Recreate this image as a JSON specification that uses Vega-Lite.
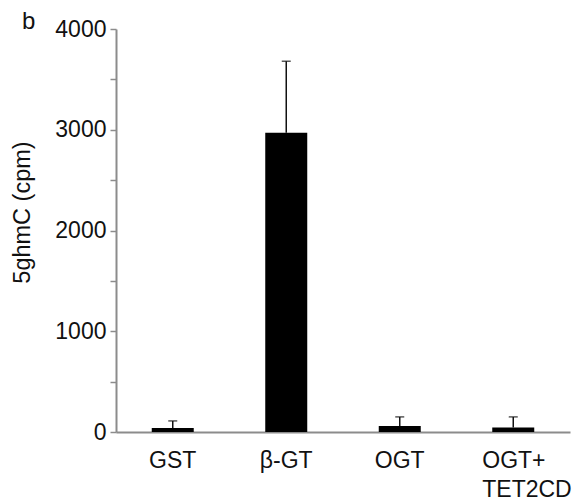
{
  "$schema": "https://vega.github.io/schema/vega-lite/v6.json",
  "autosize": "none",
  "width": 454,
  "height": 403,
  "padding": {"left": 116, "top": 29, "right": 17, "bottom": 70},
  "background": "white",
  "config": {
    "view": {"stroke": null},
    "font": "Liberation Sans"
  },
  "title": {
    "text": "b",
    "anchor": "start",
    "frame": "group",
    "orient": "top",
    "fontSize": 24,
    "fontWeight": "normal",
    "font": "Liberation Sans",
    "color": "#111",
    "offset": 0,
    "dx": -94,
    "dy": 16
  },
  "data": {
    "values": [
      {"group": "GST", "value": 40, "upper": 110},
      {"group": "β-GT", "value": 2970, "upper": 3680},
      {"group": "OGT", "value": 60, "upper": 150},
      {"group": "OGT+TET2CD", "value": 45, "upper": 150}
    ]
  },
  "encoding": {
    "x": {
      "field": "group",
      "type": "nominal",
      "sort": null,
      "scale": {"paddingInner": 0.63, "paddingOuter": 0.315},
      "axis": {
        "title": null,
        "labelAngle": 0,
        "ticks": false,
        "domainColor": "#8c8c8c",
        "domainWidth": 2,
        "labelFont": "Liberation Sans",
        "labelFontSize": 23,
        "labelColor": "#111",
        "labelPadding": 17,
        "labelLineHeight": 29,
        "labelBaseline": "top",
        "labelExpr": "datum.value == 'OGT+TET2CD' ? ['OGT+', 'TET2CD'] : datum.label",
        "labelAlign": {"condition": {"test": "datum.value == 'OGT+TET2CD'", "value": "left"}, "value": "center"},
        "labelOffset": {"condition": {"test": "datum.value == 'OGT+TET2CD'", "value": -31}, "value": 0}
      }
    }
  },
  "layer": [
    {
      "mark": {"type": "rule", "color": "#111", "strokeWidth": 1.5},
      "encoding": {
        "y": {"field": "value", "type": "quantitative"},
        "y2": {"field": "upper"}
      }
    },
    {
      "mark": {"type": "tick", "color": "#111", "thickness": 1.5, "size": 9},
      "encoding": {
        "y": {"field": "upper", "type": "quantitative"}
      }
    },
    {
      "mark": {"type": "bar", "color": "#000"},
      "encoding": {
        "y": {
          "field": "value",
          "type": "quantitative",
          "scale": {"domain": [0, 4000], "nice": false},
          "axis": {
            "title": "5ghmC (cpm)",
            "titleFont": "Liberation Sans",
            "titleFontSize": 23.5,
            "titleFontWeight": "normal",
            "titleColor": "#111",
            "titlePadding": 20,
            "titleY": 183,
            "values": [0, 500, 1000, 1500, 2000, 2500, 3000, 3500, 4000],
            "format": "d",
            "labelExpr": "datum.value % 1000 == 0 ? datum.label : ''",
            "labelFont": "Liberation Sans",
            "labelFontSize": 23,
            "labelColor": "#111",
            "labelPadding": 4,
            "grid": false,
            "tickSize": 6,
            "tickWidth": 1.5,
            "tickColor": "#8c8c8c",
            "domainColor": "#8c8c8c",
            "domainWidth": 2
          }
        }
      }
    }
  ]
}
